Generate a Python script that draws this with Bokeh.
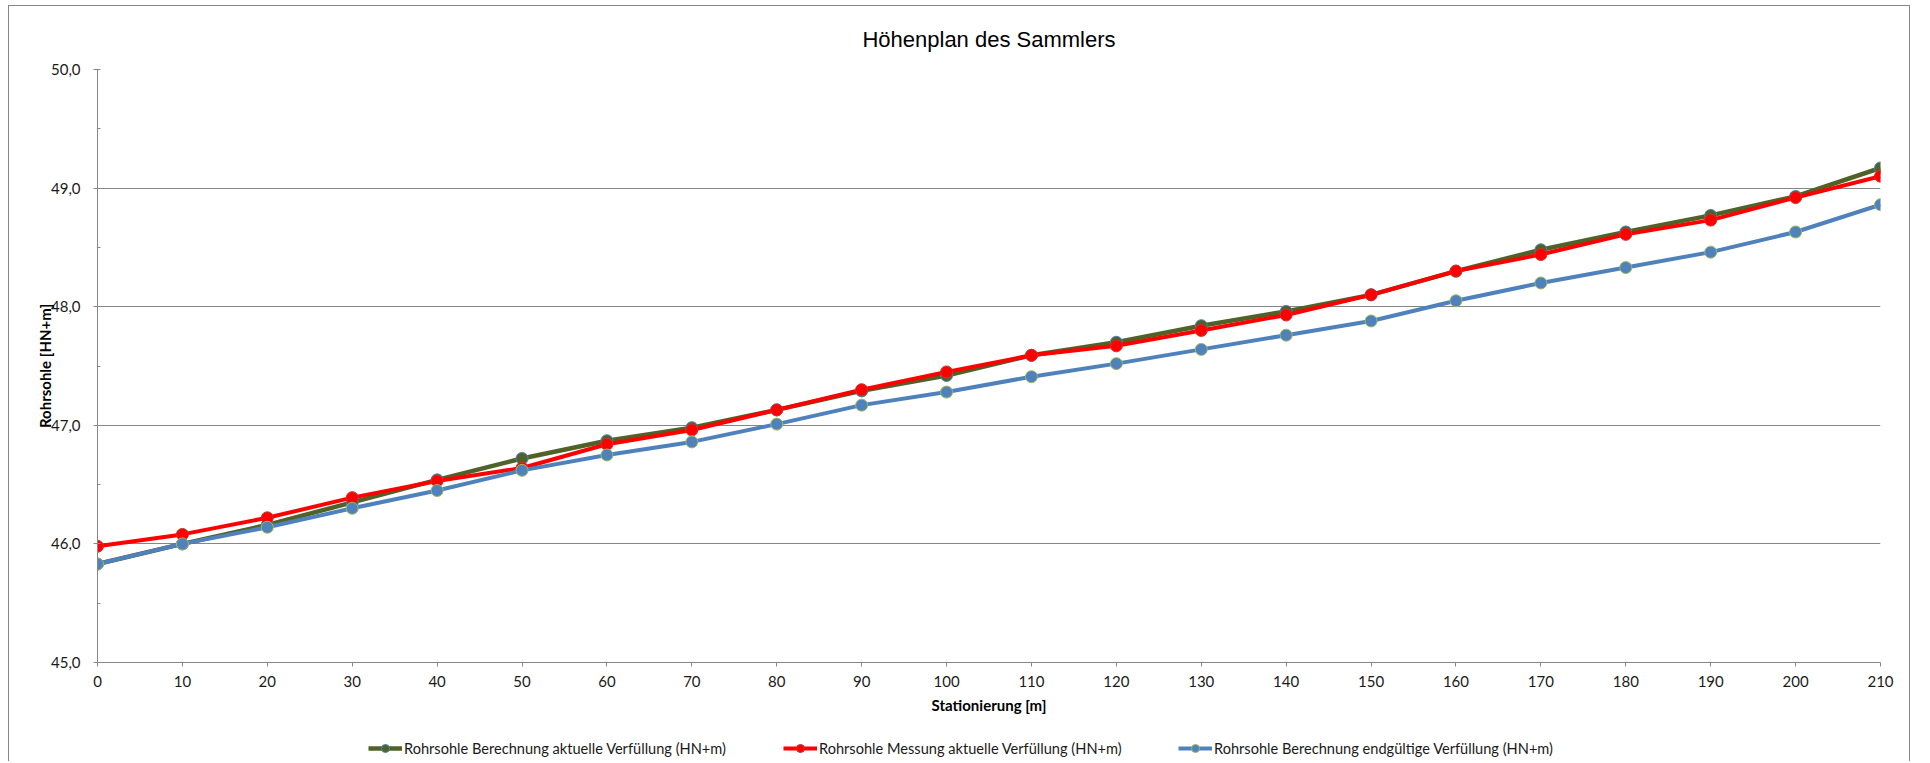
from bokeh.plotting import figure
from bokeh.layouts import column
from bokeh.models import Range1d, FixedTicker, Legend, LegendItem
from bokeh.embed import file_html
from bokeh.resources import INLINE

# ---- data ----
stations = [0, 10, 20, 30, 40, 50, 60, 70, 80, 90, 100, 110, 120, 130, 140, 150, 160, 170, 180, 190, 200, 210]
berechnung_aktuell = [45.83, 46.00, 46.16, 46.35, 46.54, 46.72, 46.87, 46.98, 47.13, 47.29, 47.42, 47.59, 47.70,
                      47.84, 47.96, 48.10, 48.30, 48.48, 48.63, 48.77, 48.93, 49.17]
messung_aktuell = [45.98, 46.08, 46.22, 46.39, 46.53, 46.64, 46.84, 46.96, 47.13, 47.30, 47.45, 47.59, 47.67,
                   47.80, 47.93, 48.10, 48.30, 48.44, 48.61, 48.73, 48.92, 49.10]
berechnung_endgueltig = [45.83, 46.00, 46.14, 46.30, 46.45, 46.62, 46.75, 46.86, 47.01, 47.17, 47.28, 47.41, 47.52,
                         47.64, 47.76, 47.88, 48.05, 48.20, 48.33, 48.46, 48.63, 48.86]
series_labels = [
    "Rohrsohle Berechnung aktuelle Verfüllung (HN+m)",
    "Rohrsohle Messung aktuelle Verfüllung (HN+m)",
    "Rohrsohle Berechnung endgültige Verfüllung (HN+m)",
]
y_ticks = [45, 46, 47, 48, 49, 50]
y_tick_labels = ["45,0", "46,0", "47,0", "48,0", "49,0", "50,0"]
y_minor_ticks = [45.5, 46.5, 47.5, 48.5, 49.5]
x_ticks = stations
title_text = "Höhenplan des Sammlers"
x_label = "Stationierung [m]"
y_label = "Rohrsohle [HN+m]"

GRID = "#868686"
FONT = "Lato"

p = figure(width=1902, height=716, output_backend="svg", toolbar_location=None,
           x_range=Range1d(0, 210), y_range=Range1d(45, 50),
           min_border_left=88, min_border_right=31, min_border_top=63, min_border_bottom=60)
p.styles = {"margin-left": "8px", "margin-top": "5px",
            "border-left": "1px solid #868686", "border-top": "1px solid #868686",
            "border-right": "1px solid #868686"}
p.outline_line_color = None
p.background_fill_color = "white"
p.border_fill_color = "white"

p.title.text = title_text
p.title.align = "center"
p.title.text_font = "Liberation Sans"
p.title.text_font_size = "22px"
p.title.text_font_style = "normal"
p.title.text_color = "#000000"
p.title.standoff = 36

# axes
p.xaxis.ticker = FixedTicker(ticks=x_ticks)
p.yaxis.ticker = FixedTicker(ticks=y_ticks, minor_ticks=y_minor_ticks)
p.yaxis.major_label_overrides = dict(zip(y_ticks, y_tick_labels))
for ax in (p.xaxis, p.yaxis):
    ax.axis_line_color = GRID
    ax.major_tick_line_color = GRID
    ax.minor_tick_line_color = GRID
    ax.major_label_text_font = FONT
    ax.major_label_text_font_size = "15px"
    ax.major_label_text_color = "#1a1a1a"
    ax.axis_label_text_font = FONT
    ax.axis_label_text_font_size = "15px"
    ax.axis_label_text_font_style = "bold"
    ax.axis_label_text_color = "#000000"
p.xaxis.axis_label = x_label
p.yaxis.axis_label = y_label
p.xaxis.major_tick_in = 0
p.xaxis.major_tick_out = 4
p.xaxis.minor_tick_line_color = None
p.xaxis.major_label_standoff = 9
p.xaxis.axis_label_standoff = 6
p.yaxis.major_tick_in = 3
p.yaxis.major_tick_out = 4
p.yaxis.minor_tick_in = 3
p.yaxis.minor_tick_out = 0
p.yaxis.major_label_standoff = 13
p.yaxis.axis_label_standoff = -6

p.xgrid.grid_line_color = None
p.ygrid.ticker = FixedTicker(ticks=y_ticks)
p.ygrid.grid_line_color = GRID
p.ygrid.grid_line_width = 1

# legend strip (separate canvas below the chart)
lf = figure(width=1902, height=40, output_backend="svg", toolbar_location=None,
            x_range=Range1d(-1000, -999), y_range=Range1d(-1000, -999),
            x_axis_type=None, y_axis_type=None,
            min_border_left=0, min_border_right=0, min_border_top=0, min_border_bottom=0)
lf.styles = {"margin-left": "8px", "border-left": "1px solid #868686", "border-right": "1px solid #868686"}
lf.outline_line_color = None
lf.background_fill_color = "white"
lf.border_fill_color = "white"

# series
styles = [
    (berechnung_aktuell, "#4F6228", 4.5, "#4F6228", "#4F81BD"),
    (messung_aktuell, "#FF0000", 4, "#FF0000", "#D03030"),
    (berechnung_endgueltig, "#4F81BD", 4, "#4F81BD", "#9BBB59"),
]
legend_x = [271, 686, 1081]
for (vals, lc, lw, fc, oc), lab, lx in zip(styles, series_labels, legend_x):
    p.line(stations, vals, line_color=lc, line_width=lw)
    p.scatter(stations, vals, marker="circle", size=12, fill_color=fc, line_color=oc, line_width=1)
    ln = lf.line(stations, vals, line_color=lc, line_width=lw)
    sc = lf.scatter(stations, vals, marker="circle", size=12, fill_color=fc, line_color=oc, line_width=1)
    leg = Legend(items=[LegendItem(label=lab, renderers=[ln, sc])], location=(lx, 3),
                 orientation="horizontal", border_line_color=None, background_fill_alpha=0,
                 padding=0, margin=0, glyph_width=34, glyph_height=20, label_height=20,
                 label_standoff=2, label_text_font=FONT, label_text_font_size="14.6px",
                 label_text_color="#1a1a1a")
    lf.add_layout(leg, "center")

layout = column(p, lf, spacing=0)
open("out.html", "w").write(file_html(layout, INLINE))
